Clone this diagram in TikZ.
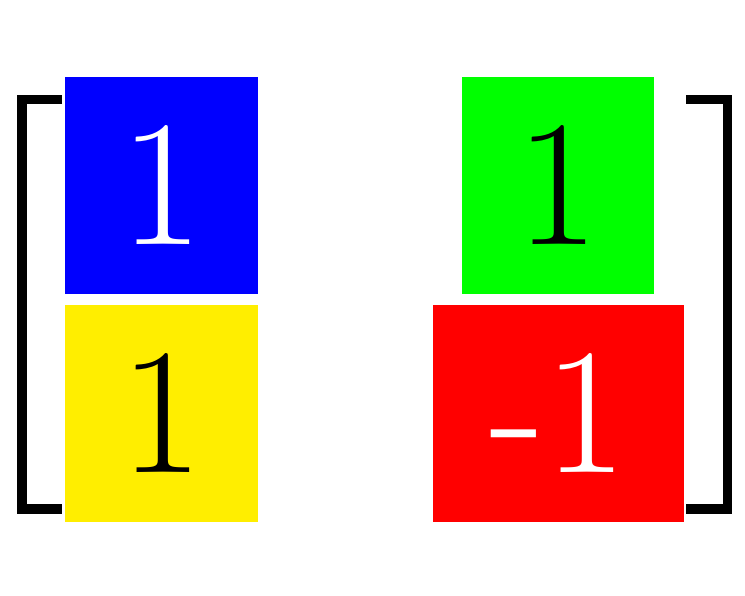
\documentclass[tikz,border=0pt]{standalone}
\usepackage{fontspec}
\definecolor{cellblue}{RGB}{0,0,255}
\definecolor{cellyellow}{RGB}{255,238,0}
\definecolor{cellgreen}{RGB}{0,255,0}
\definecolor{cellred}{RGB}{255,0,0}
\begin{document}
\begin{tikzpicture}[x=1pt, y=-1pt,
    cell/.style={rectangle, inner sep=0pt, minimum height=217pt, font=\fontsize{180}{180}\selectfont},
    bracketline/.style={line width=9.5pt, miter limit=10}]
    \useasboundingbox (0, 0) rectangle (745, 595);

    % Nodes
    % a1 & a2
    % b1 & b2
    \node[cell, fill=cellblue, text=white, minimum width=193pt] at (161.5, 185.5) (a1) {1};
    \node[cell, fill=cellyellow, text=black, minimum width=193pt] at (161.5, 413.5) (b1) {1};
    \node[cell, fill=cellgreen, text=black, minimum width=192pt] at (558, 185.5) (a2) {1};
    \node[cell, fill=cellred, text=white, minimum width=251pt] at (558.5, 413.5) (b2) {-1};

    % Brackets
    \draw[bracketline] (62, 99.5) -- (22, 99.5) -- (22, 509) -- (62, 509);
    \draw[bracketline] (686, 99.5) -- (727.5, 99.5) -- (727.5, 509) -- (686, 509);

  \end{tikzpicture}
\end{document}
